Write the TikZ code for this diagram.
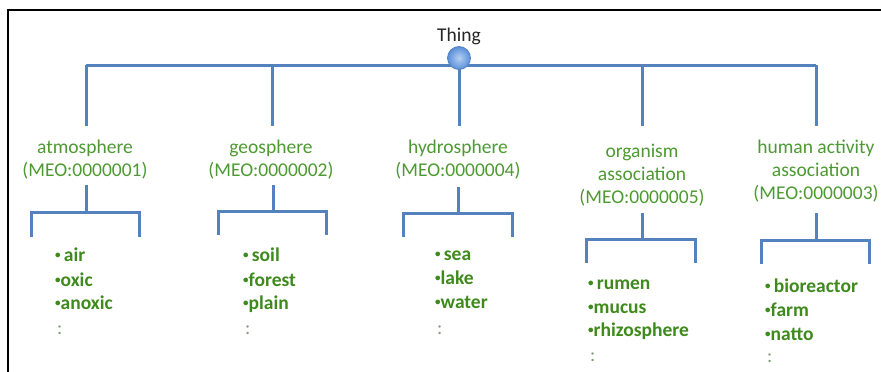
\documentclass[tikz,border=0pt]{standalone}
\usepackage{fontspec}
\setmainfont{Carlito}
\definecolor{lineblue}{HTML}{5382BE}
\definecolor{labgreen}{HTML}{4E9A32}
\definecolor{itemgreen}{HTML}{3E8A1C}
\definecolor{dotgray}{HTML}{7E9E78}
\definecolor{ballin}{HTML}{B4D0F4}
\definecolor{ballout}{HTML}{5A8ED8}
\newcommand{\sbul}{\raisebox{3pt}{\fontsize{11}{11}\selectfont\textbullet}}
\tikzset{
  lab/.style={font=\fontsize{19.5}{23}\selectfont, text=labgreen, anchor=base, inner sep=0pt},
  itm/.style={font=\fontsize{19.5}{23}\selectfont\bfseries, text=itemgreen, anchor=base west, inner sep=0pt},
  dts/.style={font=\fontsize{19.5}{23}\selectfont, text=dotgray, anchor=base west, inner sep=0pt},
  conn/.style={draw=lineblue, line width=3pt},
}
\begin{document}
\begin{tikzpicture}[x=1pt,y=-1pt]
\useasboundingbox (0,0) rectangle (881,372);
\fill[white] (0,0) rectangle (881,372);
% frame
\draw[line width=2.5pt, black] (8,372) -- (8,10) -- (881,10);

% root
\node[font=\fontsize{19.5}{23}\selectfont, text=black!85, anchor=base, inner sep=0pt] (thing) at (459,41) {Thing};
\coordinate (b1) at (86,65);
\coordinate (b2) at (272,65);
\coordinate (b3) at (459,65);
\coordinate (b4) at (642,65);
\coordinate (b5) at (816,65);
\coordinate (t1) at (86,126);
\coordinate (t2) at (272,126);
\coordinate (t3) at (459,126);
\coordinate (t4) at (642,126);
\coordinate (t5) at (816,126);
\draw[conn] (b1) -- (b5);
\foreach \i in {1,2,3,4,5} { \draw[conn] (b\i) -- (t\i); }
\node[circle, minimum size=23pt, inner sep=0pt, draw=lineblue, line width=0.8pt, inner color=ballin, outer color=ballout] (root) at (459,58) {};

% level 1 labels
\node[lab] (atm) at (85,153) {atmosphere};
\node[lab] (atmid) at (85,176) {(MEO:0000001)};
\node[lab] (geo) at (271,153) {geosphere};
\node[lab] (geoid) at (271,176) {(MEO:0000002)};
\node[lab] (hyd) at (458,153) {hydrosphere};
\node[lab] (hydid) at (458,176) {(MEO:0000004)};
\node[lab] (org) at (642,157) {organism};
\node[lab] (org2) at (642,180) {association};
\node[lab] (orgid) at (642,203) {(MEO:0000005)};
\node[lab] (hum) at (816,153) {human activity};
\node[lab] (hum2) at (816,176) {association};
\node[lab] (humid) at (816,199) {(MEO:0000003)};

% brackets
% atmosphere
\coordinate (aS) at (86,185); \coordinate (aJ) at (86,212);
\coordinate (aL) at (31,237); \coordinate (aR) at (139,237);
\draw[conn] (aS) -- (aJ);
\draw[conn] (aL) -- (aL |- aJ) -- (aR |- aJ) -- (aR);
% geosphere
\coordinate (gS) at (273,185); \coordinate (gJ) at (273,211);
\coordinate (gL) at (218,235); \coordinate (gR) at (326,235);
\draw[conn] (gS) -- (gJ);
\draw[conn] (gL) -- (gL |- gJ) -- (gR |- gJ) -- (gR);
% hydrosphere
\coordinate (hS) at (458,187); \coordinate (hJ) at (458,213);
\coordinate (hL) at (403,237); \coordinate (hR) at (512,237);
\draw[conn] (hS) -- (hJ);
\draw[conn] (hL) -- (hL |- hJ) -- (hR |- hJ) -- (hR);
% organism
\coordinate (oS) at (642,213); \coordinate (oJ) at (642,239);
\coordinate (oL) at (586,263); \coordinate (oR) at (695,263);
\draw[conn] (oS) -- (oJ);
\draw[conn] (oL) -- (oL |- oJ) -- (oR |- oJ) -- (oR);
% human activity
\coordinate (uS) at (816,213); \coordinate (uJ) at (816,240);
\coordinate (uL) at (761,264); \coordinate (uR) at (869,264);
\draw[conn] (uS) -- (uJ);
\draw[conn] (uL) -- (uL |- uJ) -- (uR |- uJ) -- (uR);

% items
\node[itm] (a1) at (55,261) {\sbul\,air};
\node[itm] (a2) at (55,286) {\sbul oxic};
\node[itm] (a3) at (55,309) {\sbul anoxic};
\node[dts] (a4) at (57,334) {:};

\node[itm] (g1) at (243,261) {\sbul\,soil};
\node[itm] (g2) at (243,286) {\sbul forest};
\node[itm] (g3) at (243,309) {\sbul plain};
\node[dts] (g4) at (245,334) {:};

\node[itm] (h1) at (435,260) {\sbul\,sea};
\node[itm] (h2) at (435,284) {\sbul lake};
\node[itm] (h3) at (435,308) {\sbul water};
\node[dts] (h4) at (437,334) {:};

\node[itm] (o1) at (588,289) {\sbul\,rumen};
\node[itm] (o2) at (588,313) {\sbul mucus};
\node[itm] (o3) at (588,336) {\sbul rhizosphere};
\node[dts] (o4) at (590,361) {:};

\node[itm] (u1) at (765,292) {\sbul\,bioreactor};
\node[itm] (u2) at (765,316) {\sbul farm};
\node[itm] (u3) at (765,340) {\sbul natto};
\node[dts] (u4) at (767,362) {:};
\end{tikzpicture}
\end{document}
